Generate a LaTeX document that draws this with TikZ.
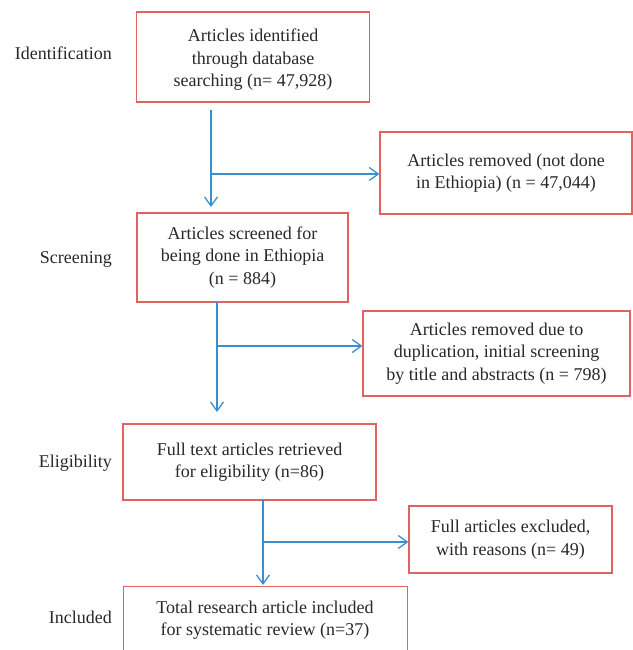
\documentclass[tikz,border=0pt]{standalone}
\usepackage{fontspec}
\setmainfont{Liberation Serif}
\usetikzlibrary{arrows.meta}
\definecolor{boxred}{RGB}{226,98,98}
\definecolor{arrblue}{RGB}{58,143,208}
\definecolor{txt}{RGB}{40,40,40}
\begin{document}
\begin{tikzpicture}[x=1pt,y=-1pt,
  box/.style={draw=boxred, line width=1.3pt, align=center, inner sep=0pt, text=txt,
    font=\fontsize{18}{22.5}\selectfont},
  btext/.style={align=center, inner sep=0pt, text=txt, font=\fontsize{18}{22.5}\selectfont},
  stage/.style={anchor=base east, text=txt, font=\fontsize{18}{22.5}\selectfont, inner sep=0pt},
  arr/.style={draw=arrblue, line width=1.3pt, -{Straight Barb[length=9pt,width=13pt,line width=1.3pt]}}]
\useasboundingbox (0,0) rectangle (632,650);
% stage labels
\node[stage] (l1) at (112,60) {Identification};
\node[stage] (l2) at (112,263) {Screening};
\node[stage] (l3) at (112,467) {Eligibility};
\node[stage] (l4) at (112,623) {Included};
% main boxes
\node[box, minimum width=233pt, minimum height=90pt] (b1) at (253,57) {};
\node[btext] (b1t) at ([yshift=-3pt]b1.center)
  {Articles identified\\through database\\searching (n= 47,928)};
\node[box, minimum width=211pt, minimum height=89pt] (b2) at (242.5,257.5)
  {Articles screened for\\being done in Ethiopia\\(n = 884)};
\node[box, minimum width=253pt, minimum height=76pt] (b3) at (249.5,462)
  {Full text articles retrieved\\for eligibility (n=86)};
\node[box, minimum width=284pt, minimum height=76pt, anchor=north west] (b4) at (123,586) {};
\node[btext] (b4t) at (265,620)
  {Total research article included\\for systematic review (n=37)};
% side boxes
\node[box, minimum width=252pt, minimum height=82pt] (r1) at (506,173)
  {Articles removed (not done\\in Ethiopia) (n = 47,044)};
\node[box, minimum width=267pt, minimum height=85pt] (r2) at (496.5,353.5)
  {Articles removed due to\\duplication, initial screening\\by title and abstracts (n = 798)};
\node[box, minimum width=203pt, minimum height=67pt] (r3) at (510.5,539.5)
  {Full articles excluded,\\with reasons (n= 49)};
% connectors
\coordinate (s1) at (211,110);
\coordinate (j1) at (211,174);
\coordinate (e1) at (211,207);
\draw[arr] (s1) -- (e1);
\draw[arr] (j1) -- (j1 -| r1.west);
\coordinate (s2) at (217,302);
\coordinate (j2) at (217,346);
\coordinate (e2) at (217,412);
\draw[arr] (s2) -- (e2);
\draw[arr] (j2) -- (j2 -| r2.west);
\coordinate (s3) at (263,500);
\coordinate (j3) at (263,542);
\coordinate (e3) at (263,585);
\draw[arr] (s3) -- (e3);
\draw[arr] (j3) -- (j3 -| r3.west);
\end{tikzpicture}
\end{document}
